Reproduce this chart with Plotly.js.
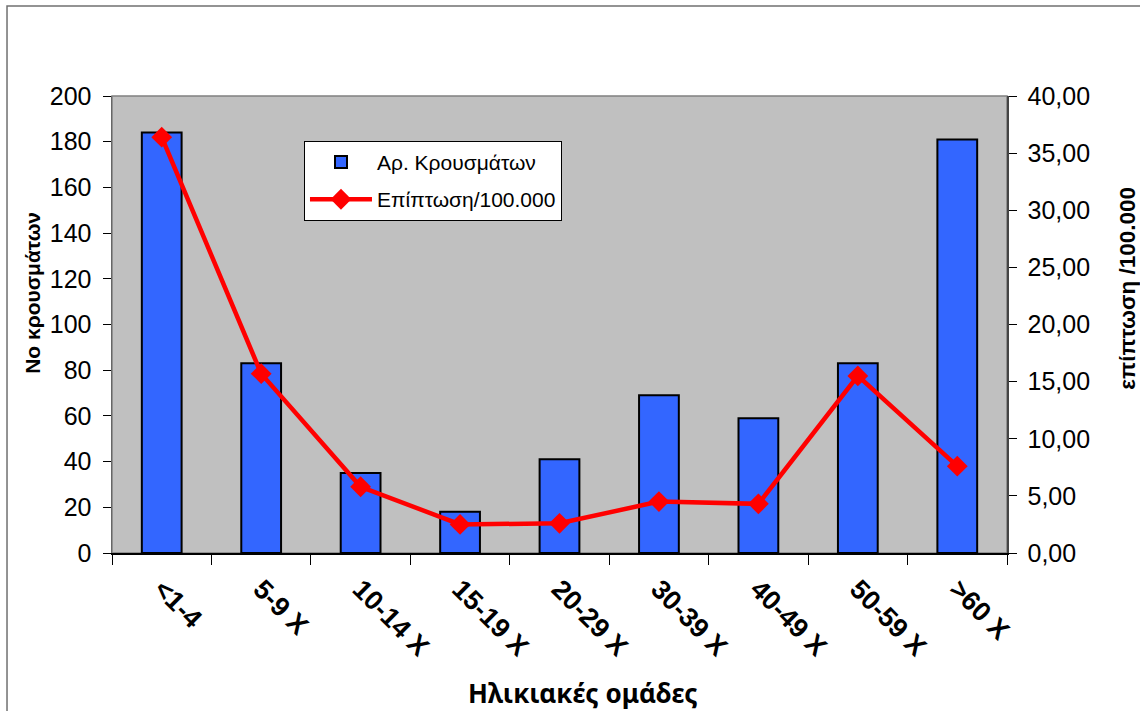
<!DOCTYPE html>
<html>
<head>
<meta charset="utf-8">
<script src="https://cdn.plot.ly/plotly-3.0.1.min.js"></script>
<style>
  html, body { margin: 0; padding: 0; background: #fff; }
  #chart { width: 1140px; height: 711px; }
</style>
</head>
<body>
<div id="chart"></div>
<script>
// Age groups
const ageGroups = ['<1-4', '5-9 X', '10-14 X', '15-19 X', '20-29 X', '30-39 X', '40-49 X', '50-59 X', '>60 X'];
// Number of cases per age group (left axis)
const caseCounts = [184, 83, 35, 18, 41, 69, 59, 83, 181];
// Incidence per 100,000 (right axis)
const incidence = [36.4, 15.7, 5.8, 2.5, 2.6, 4.5, 4.3, 15.5, 7.6];

const barName = 'Αρ. Κρουσμάτων';
const lineName = 'Επίπτωση/100.000';
const xTitle = 'Ηλικιακές ομάδες';
const yTitle = 'Νο κρουσμάτων';
const y2Title = 'επίπτωση /100.000';

const baseFont = 'Liberation Sans, Arial, sans-serif';

const traces = [
  {
    type: 'bar',
    name: barName,
    legendgroup: 'cases',
    x: ageGroups,
    y: caseCounts,
    marker: { color: '#3366FF', line: { color: '#000000', width: 2 } },
    hoverinfo: 'x+y'
  },
  {
    type: 'scatter',
    mode: 'lines+markers',
    name: lineName,
    legendgroup: 'incidence',
    x: ageGroups,
    y: incidence,
    yaxis: 'y2',
    line: { color: '#FF0000', width: 4.5 },
    marker: { symbol: 'diamond', size: 16, color: '#FF0000' }
  }
];

const layout = {
  width: 1140,
  height: 711,
  margin: { l: 112, r: 133, t: 96, b: 158, autoexpand: false },
  paper_bgcolor: '#FFFFFF',
  plot_bgcolor: '#C0C0C0',
  separators: ',.',
  bargap: 0.6,
  showlegend: true,
  font: { family: baseFont, color: '#000000', size: 20 },
  legend: {
    x: 0.2145, y: 0.902, xanchor: 'left', yanchor: 'top',
    bgcolor: '#FFFFFF', bordercolor: '#000000', borderwidth: 1,
    font: { family: baseFont, size: 21, color: '#000000' },
    itemwidth: 62,
    tracegroupgap: 7
  },
  xaxis: {
    type: 'category',
    range: [-0.5, ageGroups.length - 0.5],
    automargin: false,
    tickson: 'boundaries',
    ticks: 'outside',
    ticklen: 10,
    tickcolor: '#000000',
    tickangle: 45,
    tickfont: { family: baseFont, size: 27, color: '#000000', weight: 'bold' },
    ticklabelstandoff: 8,
    showline: true,
    linecolor: '#000000',
    linewidth: 1.5,
    showgrid: false,
    zeroline: false
  },
  yaxis: {
    automargin: false,
    range: [0, 200],
    dtick: 20,
    ticks: 'outside',
    ticklen: 8,
    tickcolor: '#000000',
    tickfont: { family: baseFont, size: 25, color: '#000000' },
    showline: true,
    linecolor: '#666666',
    linewidth: 1.5,
    showgrid: false,
    zeroline: false,
    ticklabelstandoff: 6
  },
  yaxis2: {
    automargin: false,
    overlaying: 'y',
    side: 'right',
    range: [0, 40],
    dtick: 5,
    tickformat: '.2f',
    ticks: 'outside',
    ticklen: 8,
    tickcolor: '#000000',
    tickfont: { family: baseFont, size: 25, color: '#000000' },
    showline: true,
    linecolor: '#444444',
    linewidth: 1.5,
    showgrid: false,
    zeroline: false,
    ticklabelstandoff: 6
  },
  shapes: [
    // plot area frame
    { type: 'rect', xref: 'paper', yref: 'paper', x0: 0, x1: 1, y0: 0, y1: 1,
      line: { color: '#808080', width: 1.5 }, layer: 'below' },
    // outer chart frame (left and top edges)
    { type: 'path', xref: 'paper', yref: 'paper',
      path: 'M -0.1173,-0.4 L -0.1173,1.197 L 1.2,1.197',
      line: { color: '#707070', width: 1.5 } }
  ],
  annotations: [
    { text: xTitle, xref: 'paper', yref: 'paper', x: 0.526, y: -0.306,
      xanchor: 'center', yanchor: 'middle', showarrow: false,
      font: { family: 'Noto Sans, DejaVu Sans, sans-serif', size: 26, weight: 'bold', color: '#000000' } },
    { text: yTitle, xref: 'paper', yref: 'paper', x: -0.089, y: 0.57,
      xanchor: 'center', yanchor: 'middle', textangle: -90, showarrow: false,
      font: { family: baseFont, size: 21, weight: 'bold', color: '#000000' } },
    { text: y2Title, xref: 'paper', yref: 'paper', x: 1.135, y: 0.58,
      xanchor: 'center', yanchor: 'middle', textangle: -90, showarrow: false,
      font: { family: baseFont, size: 22.5, weight: 'bold', color: '#000000' } }
  ]
};

Plotly.newPlot('chart', traces, layout, { displayModeBar: false, staticPlot: true });
</script>
</body>
</html>
